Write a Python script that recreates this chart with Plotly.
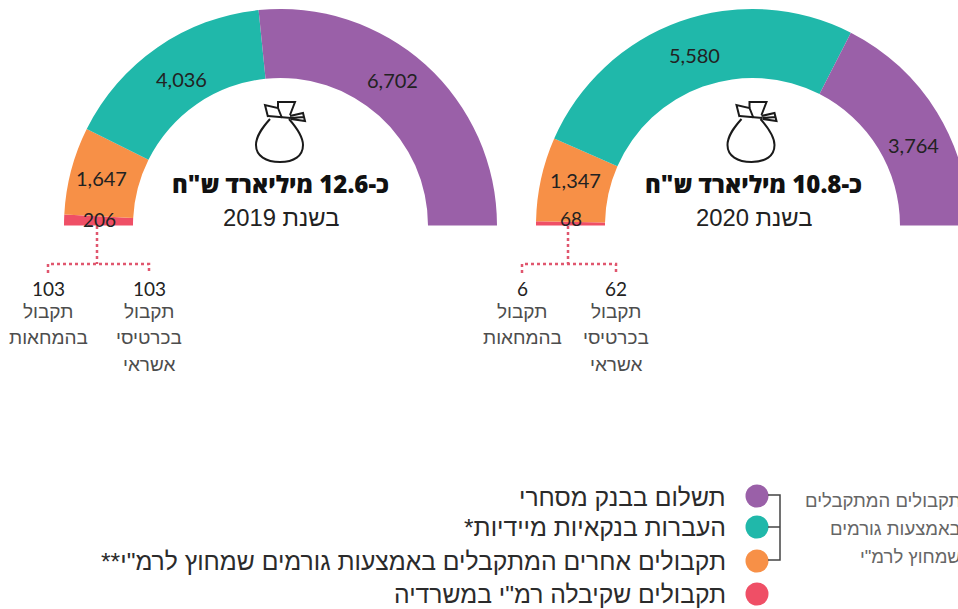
import plotly.graph_objects as go

# ---- data ----
categories = ["תשלום בבנק מסחרי", "העברות בנקאיות מיידיות*",
              "תקבולים אחרים המתקבלים באמצעות גורמים שמחוץ לרמ\"י**",
              "תקבולים שקיבלה רמ\"י במשרדיה"]
colors = ["#9a60a8", "#20b8aa", "#f79047", "#ef4f66"]
values_2019 = [6702, 4036, 1647, 206]
values_2020 = [3764, 5580, 1347, 68]
split_2019 = [103, 103]
split_2020 = [62, 6]
titles = ["כ-12.6 מיליארד ש\"ח", "כ-10.8 מיליארד ש\"ח"]
years = ["בשנת 2019", "בשנת 2020"]
split_labels_card = ["תקבול", "בכרטיסי", "אשראי"]
split_labels_check = ["תקבול", "בהמחאות"]
side_note = ["תקבולים המתקבלים", "באמצעות גורמים", "שמחוץ לרמ\"י"]

W, H = 1000, 609
NUM = "Lato"
HEB = "Liberation Sans"
BOLD = "Open Sans"
DARK = "#222222"
DOT = "#e0566e"
GRAY = "#4d4d4d"


def rtl(s):
    return "\u202b" + s + "\u202c"


def dom(cx, cy, r):
    return dict(x=[(cx - r) / W, (cx + r) / W], y=[1 - (cy + r) / H, 1 - (cy - r) / H])


def gauge(vals, cx):
    return go.Pie(values=vals[::-1] + [sum(vals)], sort=False, direction="clockwise",
                  rotation=270, hole=147.5 / 216.5, textinfo="none", hoverinfo="skip",
                  showlegend=False, domain=dom(cx, 225.5, 216.5),
                  marker=dict(colors=colors[::-1] + ["rgba(0,0,0,0)"], line=dict(width=0)))


fig = go.Figure()
fig.add_trace(gauge(values_2019, 280.5))
fig.add_trace(gauge(values_2020, 752.5))
fig.add_trace(go.Scatter(x=[757] * 4, y=[496, 527, 561, 594], mode="markers", hoverinfo="skip",
                         showlegend=False, marker=dict(size=23, color=colors, line=dict(width=0))))

ann = []


def t(x, y, s, size, color=DARK, font=NUM, weight=400, anchor="center"):
    ann.append(dict(x=x, y=y, text=s, xref="x", yref="y", showarrow=False, xanchor=anchor,
                    yanchor="middle", font=dict(family=font, size=size, color=color, weight=weight)))


for v, (x, y) in zip(values_2019, [(392, 80), (181, 79), (101, 178), (99, 219)]):
    t(x, y, f"{v:,}", 20 if v > 999 else 19)
for v, (x, y) in zip(values_2020, [(913, 145), (694, 55), (575, 180), (571, 218)]):
    t(x, y, f"{v:,}", 20 if v > 999 else 19)

for cx, ti, yr in [(280, titles[0], years[0]), (753, titles[1], years[1])]:
    t(cx, 183, rtl(ti), 24, "#111111", BOLD, 800)
    t(cx + 1, 217, rtl(yr), 23.8, DARK, HEB, 400)

for xs, vals in [((149, 48), split_2019), ((616, 522), split_2020)]:
    t(xs[0], 288, str(vals[0]), 19)
    t(xs[1], 288, str(vals[1]), 19)
    for s, y in zip(split_labels_card, [311, 337, 364]):
        t(xs[0], y, rtl(s), 19, GRAY, HEB)
    for s, y in zip(split_labels_check, [311, 337]):
        t(xs[1], y, rtl(s), 19, GRAY, HEB)

for s, y in zip(categories, [497, 527, 561, 594]):
    t(728, y, rtl(s), 24.7, "#2b2b2b", HEB, anchor="right")
for s, y in zip(side_note, [500, 528, 556]):
    t(963, y, rtl(s), 18.5, "#666666", HEB, anchor="right")

shapes = []


def line(pts, color, width, dash="solid"):
    d = "M " + " L ".join(f"{x} {y}" for x, y in pts)
    shapes.append(dict(type="path", path=d, xref="x", yref="y",
                       line=dict(color=color, width=width, dash=dash)))


# dotted connectors
for xm, xl, xr in [(97, 48, 149), (568, 522, 616)]:
    line([(xm, 226), (xm, 264)], DOT, 2.5, "dot")
    line([(xl, 273), (xl, 264), (xr, 264), (xr, 273)], DOT, 2.5, "dot")

# bracket in the legend
line([(768, 495), (780, 495), (780, 560), (768, 560)], "#444444", 1.5)
line([(768, 527), (780, 527)], "#444444", 1.5)


# money-bag icon
def bag(dx):
    def P(x, y):
        return f"{x + dx} {y}"
    body = (f"M {P(270, 119)} C {P(262, 128)} {P(256, 136)} {P(256, 145)} "
            f"C {P(256, 156)} {P(266, 162)} {P(280, 162)} C {P(294, 162)} {P(303, 156)} {P(303, 145)} "
            f"C {P(303, 136)} {P(296, 127)} {P(289, 119)}")
    collar = f"M {P(268, 116)} L {P(291, 118)}"
    flap1 = f"M {P(268, 117)} L {P(265, 105)} L {P(278, 108)} L {P(282, 118)}"
    flap2 = f"M {P(278, 108)} L {P(278, 102)} L {P(295, 102)} L {P(290, 115)}"
    tie = f"M {P(290, 116)} L {P(303, 113)} L {P(305, 121)} L {P(291, 119)} M {P(291, 118)} L {P(304, 117)}"
    for d in (body, collar, flap1, flap2, tie):
        shapes.append(dict(type="path", path=d, xref="x", yref="y",
                           line=dict(color="#1a1a1a", width=2)))


bag(0)
bag(471.5)

fig.update_layout(
    width=W, height=H, margin=dict(l=0, r=0, t=0, b=0), autosize=False,
    paper_bgcolor="white", plot_bgcolor="rgba(0,0,0,0)", showlegend=False,
    xaxis=dict(range=[0, W], visible=False, fixedrange=True, domain=[0, 1]),
    yaxis=dict(range=[H, 0], visible=False, fixedrange=True, domain=[0, 1]),
    annotations=ann, shapes=shapes,
)
fig.write_html("out.html", config=dict(displayModeBar=False),
               post_script="document.body.style.margin='0';document.documentElement.style.overflow='hidden';document.body.style.overflow='hidden';")
